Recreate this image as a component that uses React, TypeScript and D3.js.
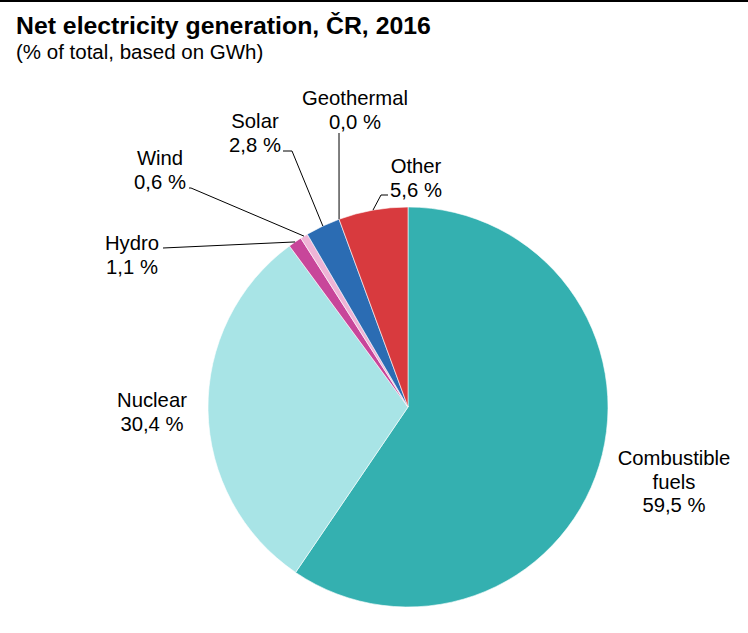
import React from 'react';
import * as d3 from 'd3';

const categories = ['Combustible fuels', 'Nuclear', 'Hydro', 'Wind', 'Solar', 'Geothermal', 'Other'];
const shares = [59.5, 30.4, 1.1, 0.6, 2.8, 0.0, 5.6];
const valueLabels = ['59,5 %', '30,4 %', '1,1 %', '0,6 %', '2,8 %', '0,0 %', '5,6 %'];
const labelLines = [['Combustible', 'fuels'], ['Nuclear'], ['Hydro'], ['Wind'], ['Solar'], ['Geothermal'], ['Other']];
const colors = ['#34b0b0', '#a8e4e6', '#c8469a', '#efb4d6', '#2b6cb3', '#888888', '#d83a3e'];

const width = 748;
const height = 633;
const cx = 408;
const cy = 407;
const radius = 200;

// label placement: text centre x, first baseline y, leader start and optional elbow
const layout: Record<string, { x: number; y: number; from?: [number, number]; elbow?: [number, number] }> = {
  'Combustible fuels': { x: 674, y: 465 },
  Nuclear: { x: 152, y: 407 },
  Hydro: { x: 132, y: 250, from: [163, 248] },
  Wind: { x: 160, y: 165, from: [189, 188], elbow: [191, 188] },
  Solar: { x: 255, y: 128, from: [283, 151], elbow: [292, 151] },
  Geothermal: { x: 355, y: 105, from: [339, 133] },
  Other: { x: 416, y: 173, from: [388, 195], elbow: [381, 195] },
};

export default function App() {
  const pie = d3
    .pie<number>()
    .sort(null)
    .value((d) => d)
    .startAngle(0)
    .endAngle(2 * Math.PI);
  const arcs = pie(shares);
  const arc = d3.arc<d3.PieArcDatum<number>>().innerRadius(0).outerRadius(radius);
  const font = '"Liberation Sans", Arial, sans-serif';

  return (
    <svg width={width} height={height} style={{ position: 'absolute', left: 0, top: 0, background: '#fff' }} fontFamily={font}>
      <line x1={0} x2={width} y1={1} y2={1} stroke="#000" strokeWidth={2} />
      <text x={16} y={34} fontSize={24.8} fontWeight="bold" fill="#000">
        Net electricity generation, ČR, 2016
      </text>
      <text x={16} y={59} fontSize={20.5} fill="#000">
        (% of total, based on GWh)
      </text>
      <g transform={`translate(${cx},${cy})`}>
        {arcs.map((a, i) =>
          a.value > 0 ? (
            <path key={categories[i]} d={arc(a) || ''} fill={colors[i]} stroke="#fff" strokeWidth={0.6} />
          ) : null
        )}
      </g>
      {arcs.map((a, i) => {
        const lay = layout[categories[i]];
        if (!lay.from) return null;
        const mid = (a.startAngle + a.endAngle) / 2;
        const ex = cx + radius * Math.sin(mid);
        const ey = cy - radius * Math.cos(mid);
        const pts: [number, number][] = [lay.from];
        if (lay.elbow) pts.push(lay.elbow);
        pts.push([ex, ey]);
        return (
          <path
            key={'l' + i}
            d={d3.line()(pts) || ''}
            fill="none"
            stroke="#000"
            strokeWidth={1}
          />
        );
      })}
      {categories.map((c, i) => {
        const lay = layout[c];
        const lines = [...labelLines[i], valueLabels[i]];
        return (
          <text key={'t' + i} textAnchor="middle" fontSize={20.3} fill="#000">
            {lines.map((s, j) => (
              <tspan key={j} x={lay.x} y={lay.y + j * 23.5}>
                {s}
              </tspan>
            ))}
          </text>
        );
      })}
    </svg>
  );
}
